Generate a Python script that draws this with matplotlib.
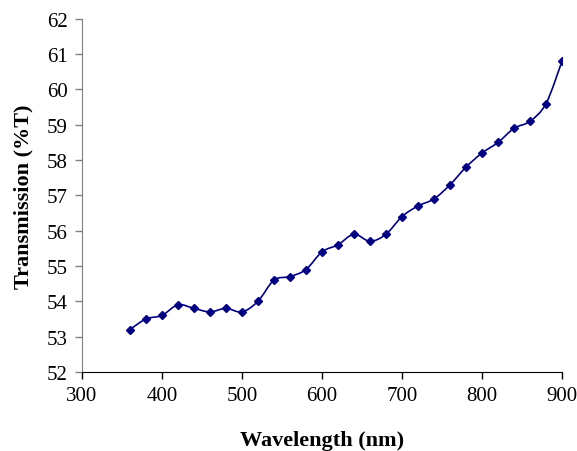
import numpy as np
import matplotlib.pyplot as plt
from matplotlib.path import Path
from matplotlib.patches import PathPatch

plt.rcParams['font.family'] = ['Liberation Serif', 'DejaVu Serif']

# --- data ---
wavelength = [360, 380, 400, 420, 440, 460, 480, 500, 520, 540, 560, 580, 600, 620,
              640, 660, 680, 700, 720, 740, 760, 780, 800, 820, 840, 860, 880, 900]
transmission = [53.2, 53.5, 53.6, 53.9, 53.8, 53.7, 53.8, 53.7, 54.0, 54.6, 54.7, 54.9,
                55.4, 55.6, 55.9, 55.7, 55.9, 56.4, 56.7, 56.9, 57.3, 57.8, 58.2, 58.5,
                58.9, 59.1, 59.6, 60.8]
xticks = [300, 400, 500, 600, 700, 800, 900]
yticks = list(range(52, 63))

navy = '#000080'


def smooth_path(x, y, k=1/6):
    """Excel-style smoothed line: cubic Bezier segments through every point."""
    x = np.asarray(x, float)
    y = np.asarray(y, float)
    n = len(x)
    verts = [(x[0], y[0])]
    codes = [Path.MOVETO]
    for i in range(n - 1):
        p0 = np.array([x[max(i - 1, 0)], y[max(i - 1, 0)]])
        p1 = np.array([x[i], y[i]])
        p2 = np.array([x[i + 1], y[i + 1]])
        p3 = np.array([x[min(i + 2, n - 1)], y[min(i + 2, n - 1)]])
        c1 = p1 + (p2 - p0) * k
        c2 = p2 - (p3 - p1) * k
        verts += [tuple(c1), tuple(c2), tuple(p2)]
        codes += [Path.CURVE4] * 3
    return Path(verts, codes)


fig = plt.figure(figsize=(5.77, 4.52), dpi=100)
ax = fig.add_axes([0.142, 0.175, 0.832, 0.781])

ax.add_patch(PathPatch(smooth_path(wavelength, transmission), fill=False,
                       edgecolor=navy, lw=1.2))
ax.plot(wavelength, transmission, 'D', color=navy, ms=4.5, lw=0)

ax.set_xlim(300, 900)
ax.set_ylim(52, 62)
ax.set_xticks(xticks)
ax.set_yticks(yticks)
ax.tick_params(labelsize=15, length=5, width=1, direction='out', pad=5)

for s in ['top', 'right']:
    ax.spines[s].set_visible(False)
ax.spines['left'].set_color('#808080')
ax.spines['bottom'].set_color('black')
ax.tick_params(axis='y', color='#808080')

ax.set_xlabel('Wavelength (nm)', fontsize=16, fontweight='bold', labelpad=18)
ax.set_ylabel('Transmission (%T)', fontsize=16, fontweight='bold', labelpad=10)

fig.savefig('out.png', dpi=100)
